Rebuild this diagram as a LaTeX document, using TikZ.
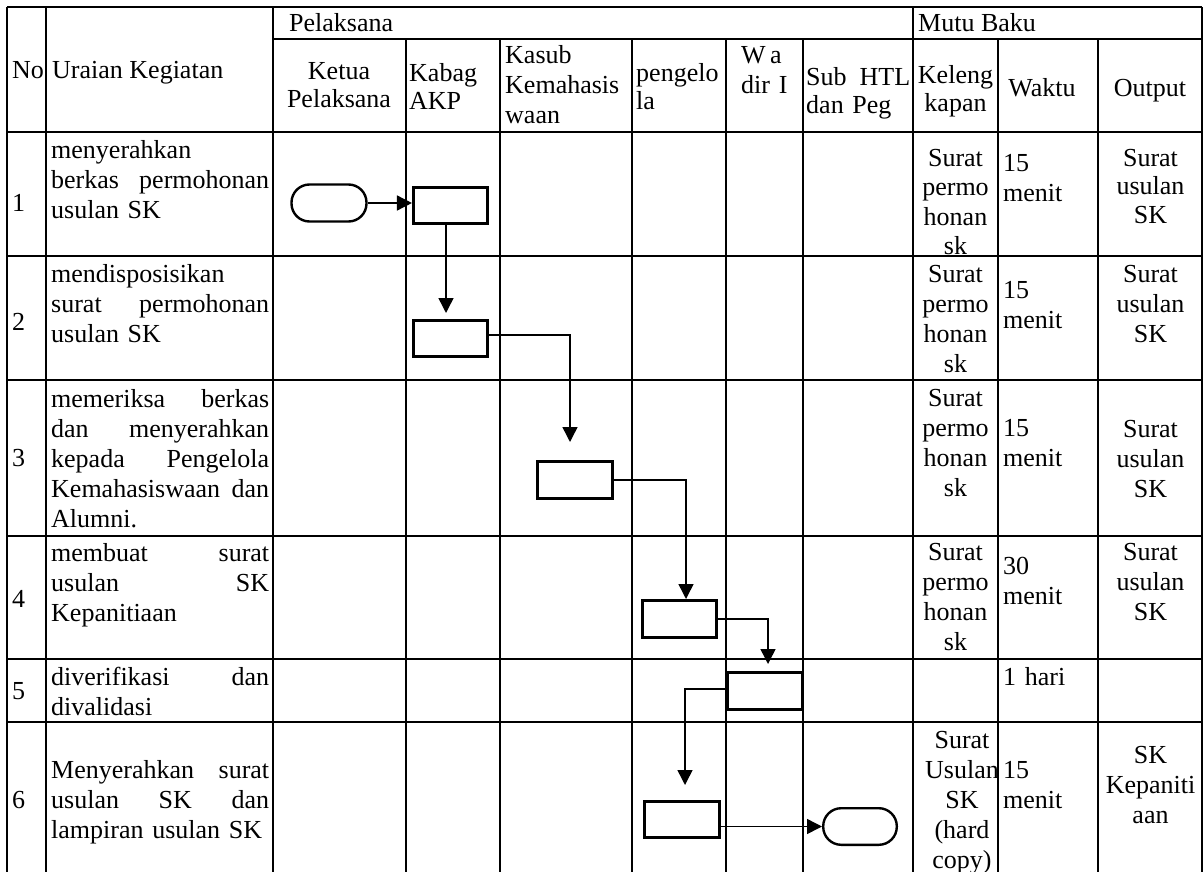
\documentclass[tikz,border=0pt]{standalone}
\usepackage{fontspec}
\setmainfont{Liberation Serif}
\usetikzlibrary{arrows.meta}
\begin{document}
\begin{tikzpicture}[x=1pt,y=-1pt,
  tline/.style={line width=1.2pt},
  proc/.style={draw, line width=2.6pt, minimum width=74.5pt, minimum height=36.5pt, inner sep=0pt},
  term/.style={draw, line width=2.4pt, rounded corners=18pt, minimum width=75pt, minimum height=37pt, inner sep=0pt},
  conn/.style={line width=1.5pt, -{Triangle[length=15pt,width=15pt]}},
  txt/.style={inner sep=0pt, font=\fontsize{26}{30}\selectfont},
  lcell/.style={txt, anchor=base west, align=left},
  ccell/.style={txt, anchor=base, align=center}]
\useasboundingbox (0,0) rectangle (1204,872);
\fill[white] (0,0) rectangle (1204,872);
% ---- table grid ----
\draw[tline] (7,7) -- (1202,7);
\draw[tline] (273,39) -- (1202,39);
\foreach \y in {132,256,380,536,659,722} \draw[tline] (7,\y) -- (1202,\y);
\foreach \x in {7,46,273,913,1202} \draw[tline] (\x,7) -- (\x,872);
\foreach \x in {406,500,632,726,803,998,1098} \draw[tline] (\x,39) -- (\x,872);
% ---- header ----
\node[lcell] (hno) at (12,79) {No};
\node[lcell] (hur) at (52,79) {Uraian Kegiatan};
\node[lcell] (hpel) at (289,32) {Pelaksana};
\node[lcell] (hmutu) at (918,32) {Mutu Baku};
\node[ccell, text width=130pt, font=\fontsize{26}{28}\selectfont] (hketua) at (339,80) {Ketua\\Pelaksana};
\node[lcell, text width=95pt, font=\fontsize{26}{28}\selectfont] (hkabag) at (409,82) {Kabag\\AKP};
\node[lcell, text width=125pt] (hkasub) at (505,64) {Kasub\\Kemahasis\\waan};
\node[lcell, text width=95pt, font=\fontsize{26}{28}\selectfont] (hpeng) at (636,82) {pengelo\\la};
\node[lcell, text width=70pt] (hwadir) at (741,64) {W\,a\\dir I};
\node[lcell, text width=104pt, font=\fontsize{26}{28}\selectfont] (hsub) at (806,86) {Sub\hfill HTL\\dan Peg};
\node[ccell, text width=85pt, font=\fontsize{26}{28}\selectfont] (hkel) at (955.5,84) {Keleng\\kapan};
\node[ccell, text width=95pt] (hwak) at (1042,97) {Waktu};
\node[ccell, text width=100pt] (hout) at (1150,97) {Output};
% ---- numbers ----
\node[lcell] (n1) at (12,211) {1};
\node[lcell] (n2) at (12,330) {2};
\node[lcell] (n3) at (12,466) {3};
\node[lcell] (n4) at (12,607) {4};
\node[lcell] (n5) at (12,699) {5};
\node[lcell] (n6) at (12,808) {6};
% ---- uraian ----
\node[lcell, text width=218pt] (u1) at (51,158) {menyerahkan\\berkas\hfill permohonan\\usulan SK};
\node[lcell, text width=218pt] (u2) at (51,282) {mendisposisikan\\surat\hfill permohonan\\usulan SK};
\node[lcell, text width=218pt] (u3) at (51,407) {memeriksa\hfill berkas\\dan\hfill menyerahkan\\kepada\hfill Pengelola\\Kemahasiswaan\hfill dan\\Alumni.};
\node[lcell, text width=218pt] (u4) at (51,561) {membuat\hfill surat\\usulan\hfill SK\\Kepanitiaan};
\node[lcell, text width=218pt] (u5) at (51,685) {diverifikasi\hfill dan\\divalidasi};
\node[lcell, text width=218pt] (u6) at (51,778) {Menyerahkan\hfill surat\\usulan\hfill SK\hfill dan\\lampiran usulan SK};
% ---- kelengkapan ----
\node[ccell, text width=85pt, font=\fontsize{26}{29.5}\selectfont] (k1) at (955.5,166) {Surat\\permo\\honan\\sk};
\node[ccell, text width=85pt] (k2) at (955.5,282) {Surat\\permo\\honan\\sk};
\node[ccell, text width=85pt] (k3) at (955.5,406) {Surat\\permo\\honan\\sk};
\node[ccell, text width=85pt] (k4) at (955.5,560) {Surat\\permo\\honan\\sk};
\node[ccell, text width=85pt] (k6) at (962,748) {Surat\\Usulan\\SK\\(hard\\copy)};
% ---- waktu ----
\node[lcell, text width=90pt] (w1) at (1003,171) {15\\menit};
\node[lcell, text width=90pt] (w2) at (1003,298) {15\\menit};
\node[lcell, text width=90pt] (w3) at (1003,436) {15\\menit};
\node[lcell, text width=90pt] (w4) at (1003,574) {30\\menit};
\node[lcell, text width=90pt] (w5) at (1003,685) {1 hari};
\node[lcell, text width=90pt] (w6) at (1003,778) {15\\menit};
% ---- output ----
\node[ccell, text width=100pt, font=\fontsize{26}{28.5}\selectfont] (o1) at (1150.5,166) {Surat\\usulan\\SK};
\node[ccell, text width=100pt] (o2) at (1150.5,282) {Surat\\usulan\\SK};
\node[ccell, text width=100pt] (o3) at (1150.5,437) {Surat\\usulan\\SK};
\node[ccell, text width=100pt] (o4) at (1150.5,560) {Surat\\usulan\\SK};
\node[ccell, text width=100pt] (o6) at (1150.5,763) {SK\\Kepaniti\\aan};
% ---- flow shapes ----
\node[term] (T1) at (329,203) {};
\node[proc] (B1) at (450.5,205.5) {};
\node[proc] (B2) at (450.5,338.5) {};
\node[proc] (B3) at (575,480) {};
\node[proc] (B4) at (679.5,619) {};
\node[proc] (B5) at (765,691) {};
\node[proc] (B6) at (682,819.5) {};
\node[term, minimum width=73.6pt, minimum height=36.6pt] (T2) at (860,826.5) {};
% ---- connectors ----
\coordinate (a2) at (446,313);
\coordinate (k3c) at (570,335);
\coordinate (a3) at (570,442);
\coordinate (k4c) at (686,480);
\coordinate (a4) at (686,599);
\coordinate (k5c) at (768,619);
\coordinate (a5) at (768,664);
\coordinate (k6c) at (685,689);
\coordinate (a6) at (685,785);
\draw[conn] (T1.east) -- (T1.east -| B1.west);
\draw[conn] (B1.south -| a2) -- (a2);
\draw[conn] (B2.east |- k3c) -- (k3c) -- (a3);
\draw[conn] (B3.east |- k4c) -- (k4c) -- (a4);
\draw[conn] (B4.east |- k5c) -- (k5c) -- (a5);
\draw[conn] (B5.west |- k6c) -- (k6c) -- (a6);
\draw[conn] (B6.east |- T2.west) -- (T2.west);
\end{tikzpicture}
\end{document}
